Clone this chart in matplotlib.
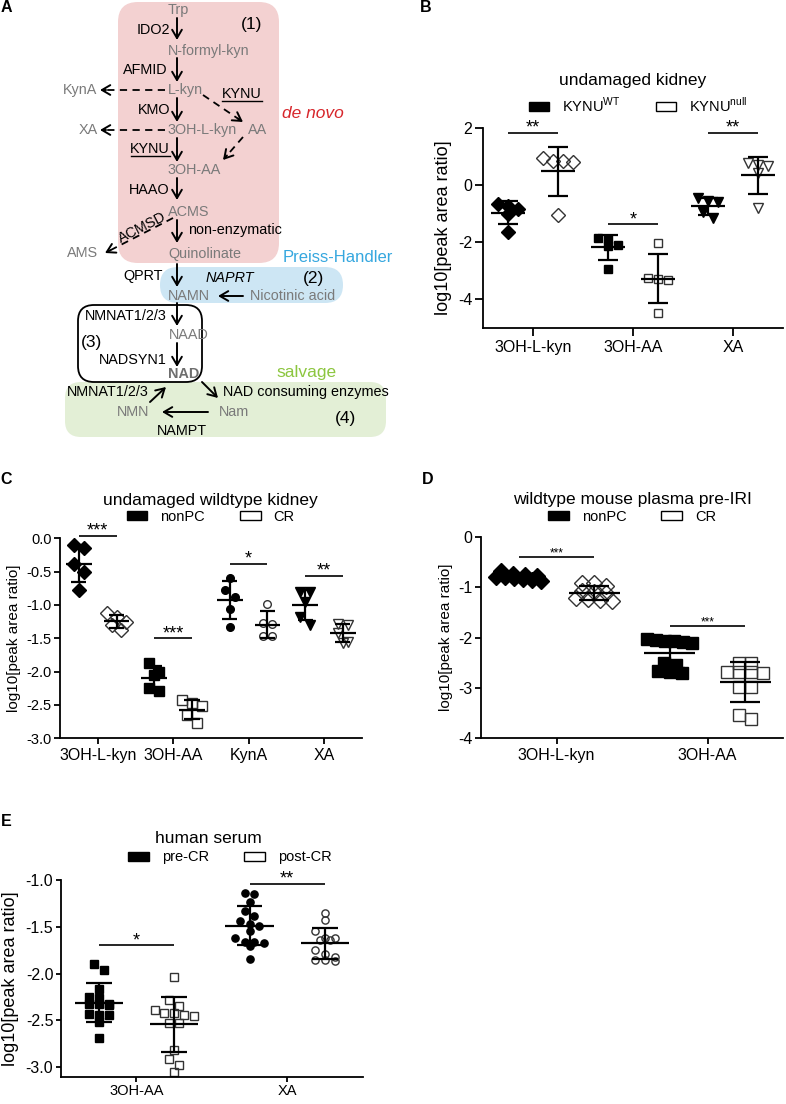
import numpy as np
import matplotlib
matplotlib.use('Agg')
import matplotlib.pyplot as plt
from matplotlib.patches import FancyBboxPatch, Patch

plt.rcParams['font.family'] = ['Liberation Sans', 'DejaVu Sans']
plt.rcParams['axes.unicode_minus'] = False
plt.rcParams['mathtext.fontset'] = 'custom'
plt.rcParams['mathtext.rm'] = 'Liberation Sans'

# ---------------- data ----------------
# B: undamaged kidney
b_categories = ['3OH-L-kyn', '3OH-AA', 'XA']
b_wt = [[-0.85, -0.65, -1.0, -0.72, -1.65],
        [-2.09, -1.84, -2.15, -1.88, -2.93],
        [-0.60, -0.55, -0.45, -1.15, -0.95]]
b_null = [[0.85, 0.94, 0.80, 0.85, -1.05],
          [-2.03, -3.29, -3.31, -3.26, -4.48],
          [0.70, 0.75, 0.40, 0.65, -0.80]]
b_sig = ['**', '*', '**']
b_sig_y = [1.82, -1.37, 1.82]

# C: undamaged wildtype kidney
c_categories = ['3OH-L-kyn', '3OH-AA', 'KynA', 'XA']
c_nonpc = [[-0.385, -0.15, -0.10, -0.50, -0.775],
           [-2.0, -2.05, -1.865, -2.285, -2.25],
           [-0.59, -0.775, -0.875, -1.065, -1.325],
           [-0.80, -0.80, -0.95, -1.175, -1.30]]
c_cr = [[-1.125, -1.18, -1.30, -1.375, -1.25],
        [-2.475, -2.425, -2.52, -2.65, -2.775],
        [-0.985, -1.275, -1.28, -1.465, -1.465],
        [-1.285, -1.30, -1.425, -1.55, -1.575]]
c_sig = ['***', '***', '*', '**']
c_sig_y = [0.035, -1.5, -0.38, -0.56]

# D: wildtype mouse plasma pre-IRI
d_categories = ['3OH-L-kyn', '3OH-AA']
d_nonpc = [[-0.80, -0.83, -0.78, -0.86, -0.74, -0.88, -0.80, -0.76, -0.68, -0.82],
           [-2.03, -2.06, -2.08, -2.05, -2.10, -2.06, -2.50, -2.55, -2.68, -2.66, -2.70]]
d_cr = [[-0.92, -0.91, -0.98, -1.08, -1.10, -1.12, -1.22, -1.26, -1.28, -1.23],
        [-2.51, -2.50, -2.69, -2.68, -2.70, -2.69, -2.99, -2.99, -3.62, -3.53]]
d_sig = ['***', '***']
d_sig_y = [-0.40, -1.77]

# E: human serum
e_categories = ['3OH-AA', 'XA']
e_pre = [[-1.90, -1.96, -2.16, -2.25, -2.26, -2.33, -2.32, -2.33, -2.34, -2.44,
          -2.44, -2.43, -2.52, -2.69],
         [-1.14, -1.15, -1.24, -1.33, -1.38, -1.44, -1.47, -1.49, -1.54, -1.62,
          -1.66, -1.66, -1.67, -1.70, -1.84]]
e_post = [[-2.035, -2.28, -2.35, -2.39, -2.42, -2.42, -2.455, -2.44, -2.53, -2.53,
           -2.82, -2.91, -2.975, -3.05],
          [-1.35, -1.43, -1.55, -1.62, -1.64, -1.64, -1.62, -1.745, -1.795, -1.85,
           -1.86, -1.87, -1.82]]
e_sig = ['*', '**']
e_sig_y = [-1.695, -1.04]

W, H = 786, 1104
fig = plt.figure(figsize=(W / 100, H / 100), dpi=100)


def px_axes(l, t, r, b):
    return fig.add_axes([l / W, 1 - b / H, (r - l) / W, (b - t) / H])


def swarm(vals, dy, dx, maxw):
    # simple deterministic spread of points sharing a row
    vals = np.asarray(vals)
    order = np.argsort(vals)[::-1]
    offs = np.zeros(len(vals))
    rows = []
    for i in order:
        if rows and abs(vals[i] - vals[rows[-1][0]]) < dy:
            rows[-1].append(i)
        else:
            rows.append([i])
    for r in rows:
        n = len(r)
        step = dx if n < 2 else min(dx, maxw / (n - 1))
        for k, i in enumerate(r):
            offs[i] = (k - (n - 1) / 2) * step
    return offs


def dotplot(ax, cats, groups, markers, ms, dy, dx, maxw, off, mean_hw, cap_hw,
            sig, sig_y, star_size):
    for i in range(len(cats)):
        for g, data in enumerate(groups):
            vals = np.array(data[i])
            x0 = i - off if g == 0 else i + off
            xs = x0 + swarm(vals, dy, dx, maxw)
            if g == 0:
                ax.plot(xs, vals, ls='none', marker=markers[i], ms=ms[i],
                        mfc='k', mec='k', zorder=2)
            else:
                ax.plot(xs, vals, ls='none', marker=markers[i], ms=ms[i],
                        mfc='none', mec='#333333', mew=1.0, zorder=2)
            m, s = vals.mean(), vals.std(ddof=1)
            ax.hlines(m, x0 - mean_hw, x0 + mean_hw, color='k', lw=1.6, zorder=3)
            ax.vlines(x0, m - s, m + s, color='k', lw=1.6, zorder=3)
            ax.hlines([m - s, m + s], x0 - cap_hw, x0 + cap_hw, color='k',
                      lw=1.6, zorder=3)
        ax.hlines(sig_y[i], i - off, i + off, color='k', lw=1.2, clip_on=False)
        ax.text(i, sig_y[i], sig[i], ha='center', va='baseline',
                fontsize=star_size)
    ax.set_xticks(range(len(cats)))
    ax.set_xticklabels(cats)


def style(ax, xsize, ysize, tl=4, xpad=3):
    ax.set_facecolor('none')
    for s in ['top', 'right']:
        ax.spines[s].set_visible(False)
    for s in ['left', 'bottom']:
        ax.spines[s].set_linewidth(1.3)
    ax.tick_params(axis='x', labelsize=xsize, width=1.3, length=tl, pad=xpad)
    ax.tick_params(axis='y', labelsize=ysize, width=1.3, length=tl, pad=2)


def head(ax, title, t_xy, labels, l_xy, size=12.5):
    ax.text(t_xy[0], t_xy[1], title, transform=ax.transAxes, ha='center',
            va='center', fontsize=size)
    handles = [Patch(facecolor='k', edgecolor='k', label=labels[0]),
               Patch(facecolor='white', edgecolor='k', lw=1, label=labels[1])]
    ax.legend(handles=handles, loc='center', bbox_to_anchor=l_xy, ncol=2,
              frameon=False, fontsize=10.5, handlelength=1.4, handleheight=0.6,
              handletextpad=0.9, columnspacing=2.4, borderaxespad=0,
              borderpad=0)


# ---------------- panel A (pathway diagram) ----------------
ax0 = fig.add_axes([0, 0, 1, 1], zorder=0)
ax0.set_xlim(0, W)
ax0.set_ylim(H, 0)
ax0.axis('off')

GRAY = '#7a7a7a'
for (x1, y1, x2, y2, r, fc, ec) in [(118, 2, 279, 263, 20, '#f3d1d1', 'none'),
                                    (160, 267, 343, 303, 18, '#cde6f4', 'none'),
                                    (65, 382, 386, 437, 16, '#e3efd6', 'none'),
                                    (78, 305, 202, 382, 16, 'none', 'k')]:
    ax0.add_patch(FancyBboxPatch((x1, y1), x2 - x1, y2 - y1,
                                 boxstyle='round,pad=0,rounding_size=%d' % r,
                                 fc=fc, ec=ec, lw=1.3, zorder=1))

AP = dict(arrowstyle='->,head_length=0.6,head_width=0.35', lw=1.4, color='k',
          shrinkA=0, shrinkB=0)


def arrow(x1, y1, x2, y2, dashed=False):
    if dashed:
        v = np.array([x2 - x1, y2 - y1], float)
        v /= np.hypot(*v)
        ax0.plot([x1, x2 - 4 * v[0]], [y1, y2 - 4 * v[1]], color='k', lw=1.3,
                 ls=(0, (4, 3)), zorder=3)
        ax0.annotate('', xy=(x2, y2), xytext=(x2 - 6 * v[0], y2 - 6 * v[1]),
                     arrowprops=AP, zorder=3)
    else:
        ax0.annotate('', xy=(x2, y2), xytext=(x1, y1), arrowprops=AP, zorder=3)


for y1, y2 in [(18, 40), (58, 82), (98, 122), (138, 162), (178, 200),
               (220, 243), (264, 287), (303, 326), (343, 367)]:
    arrow(177, y1, 177, y2)
arrow(165, 90, 100, 90, True)
arrow(165, 130, 100, 130, True)
arrow(203, 95, 243, 122, True)
arrow(243, 137, 223, 160, True)
arrow(173, 218, 105, 253, True)
arrow(243, 296, 218, 296)
arrow(150, 402, 166, 387)
arrow(202, 382, 218, 398)
arrow(208, 412, 162, 412)

FS = 10.4


def t(x, y, s, ha='left', color='k', size=FS, **kw):
    ax0.text(x, y, s, ha=ha, va='center', color=color, fontsize=size,
             zorder=4, **kw)


t(178, 10, 'Trp', 'center', GRAY)
t(252, 24, '(1)', 'center', size=12.5)
t(170, 30, 'IDO2', 'right')
t(168, 51, 'N-formyl-kyn', 'left', GRAY)
t(168, 70, 'AFMID', 'right')
t(168, 90, 'L-kyn', 'left', GRAY)
t(97, 90, 'KynA', 'right', GRAY)
t(242, 94, 'KYNU', 'center')
ax0.plot([222, 262], [101, 101], color='k', lw=1.0)
t(170, 110, 'KMO', 'right')
t(168, 130, '3OH-L-kyn', 'left', GRAY)
t(258, 130, 'AA', 'center', GRAY)
t(98, 130, 'XA', 'right', GRAY)
t(170, 149, 'KYNU', 'right')
ax0.plot([131, 170], [156, 156], color='k', lw=1.0)
t(168, 170, '3OH-AA', 'left', GRAY)
t(170, 190, 'HAAO', 'right')
t(168, 212, 'ACMS', 'left', GRAY)
t(142, 228, 'ACMSD', 'center', rotation=27, rotation_mode='anchor')
t(188, 230, 'non-enzymatic', 'left')
t(98, 253, 'AMS', 'right', GRAY)
t(168, 254, 'Quinolinate', 'left', GRAY)
t(313, 113, 'de novo', 'center', '#d7262b', 12.5, style='italic')
t(283, 257, 'Preiss-Handler', 'left', '#35a7df', 12)
t(163, 276, 'QPRT', 'right')
t(230, 278, 'NAPRT', 'center', style='italic')
t(313, 278, '(2)', 'center', size=12.5)
t(168, 296, 'NAMN', 'left', GRAY)
t(250, 296, 'Nicotinic acid', 'left', GRAY)
t(167, 316, 'NMNAT1/2/3', 'right')
t(169, 335, 'NAAD', 'left', GRAY)
t(91, 342, '(3)', 'center', size=12.5)
t(167, 360, 'NADSYN1', 'right')
t(168, 374, 'NAD', 'left', '#6e6e6e', weight='bold')
t(307, 373, 'salvage', 'center', '#8cc63f', 12.5)
t(149, 392, 'NMNAT1/2/3', 'right')
t(223, 392, 'NAD consuming enzymes', 'left')
t(133, 412, 'NMN', 'center', GRAY)
t(219, 412, 'Nam', 'left', GRAY)
t(182, 431, 'NAMPT', 'center')
t(345, 419, '(4)', 'center', size=12.5)

for s, x, y in [('A', 6, 8), ('B', 426, 8), ('C', 6, 479), ('D', 428, 479),
                ('E', 6, 822)]:
    t(x, y, s, 'center', size=11.5, weight='bold')

# ---------------- panel B ----------------
axB = px_axes(482.7, 127.7, 783, 328)
dotplot(axB, b_categories, [b_wt, b_null], ['D', 's', 'v'], [7, 6.3, 7],
        0.3, 0.1, 0.35, 0.25, 0.17, 0.1, b_sig, b_sig_y, 13)
axB.set_xlim(-0.5, 2.5)
axB.set_ylim(-5, 2)
axB.set_yticks([-4, -2, 0, 2])
style(axB, 11.5, 11.5, 5.5)
axB.set_ylabel('log10[peak area ratio]', fontsize=13, labelpad=4)
head(axB, 'undamaged kidney', (0.50, 1.238),
     ['KYNU$^{\\mathrm{WT}}$', 'KYNU$^{\\mathrm{null}}$'], (0.517, 1.113))

# ---------------- panel C ----------------
axC = px_axes(60, 538.3, 361.7, 738.3)
dotplot(axC, c_categories, [c_nonpc, c_cr], ['D', 's', 'o', 'v'],
        [7, 7, 5.5, 7.5], 0.14, 0.13, 0.33, 0.25, 0.17, 0.1, c_sig, c_sig_y, 13)
axC.set_xlim(-0.5, 3.5)
axC.set_ylim(-3, 0)
axC.set_yticks(np.arange(-3, 0.01, 0.5))
axC.set_yticklabels(['%.1f' % v for v in np.arange(-3, 0.01, 0.5)])
style(axC, 11.5, 10.5)
axC.set_ylabel('log10[peak area ratio]', fontsize=11, labelpad=4)
head(axC, 'undamaged wildtype kidney', (0.497, 1.19), ['nonPC', 'CR'],
     (0.50, 1.107))

# ---------------- panel D ----------------
axD = px_axes(481, 536.7, 783, 738.3)
dotplot(axD, d_categories, [d_nonpc, d_cr], ['D', 's'], [8, 8.5],
        0.12, 0.08, 0.3, 0.25, 0.17, 0.1, d_sig, d_sig_y, 8.5)
axD.set_xlim(-0.5, 1.5)
axD.set_ylim(-4, 0)
axD.set_yticks([-4, -3, -2, -1, 0])
style(axD, 11.5, 11.5)
axD.set_ylabel('log10[peak area ratio]', fontsize=11, labelpad=4)
head(axD, 'wildtype mouse plasma pre-IRI', (0.503, 1.187), ['nonPC', 'CR'],
     (0.50, 1.098))

# ---------------- panel E ----------------
axE = px_axes(61, 880, 362.7, 1077)
dotplot(axE, e_categories, [e_pre, e_post], ['s', 'o'], [5.2, 5.2],
        0.075, 0.065, 0.3, 0.25, 0.16, 0.085, e_sig, e_sig_y, 13)
axE.set_xlim(-0.5, 1.5)
axE.set_ylim(-3.105, -1.0)
axE.set_yticks(np.arange(-3, -0.99, 0.5))
axE.set_yticklabels(['%.1f' % v for v in np.arange(-3, -0.99, 0.5)])
style(axE, 10.5, 11.5, 3.5, 1.5)
axE.set_ylabel('log10[peak area ratio]', fontsize=13, labelpad=5)
head(axE, 'human serum', (0.488, 1.21), ['pre-CR', 'post-CR'], (0.56, 1.115))

fig.savefig('out.png', dpi=100)
